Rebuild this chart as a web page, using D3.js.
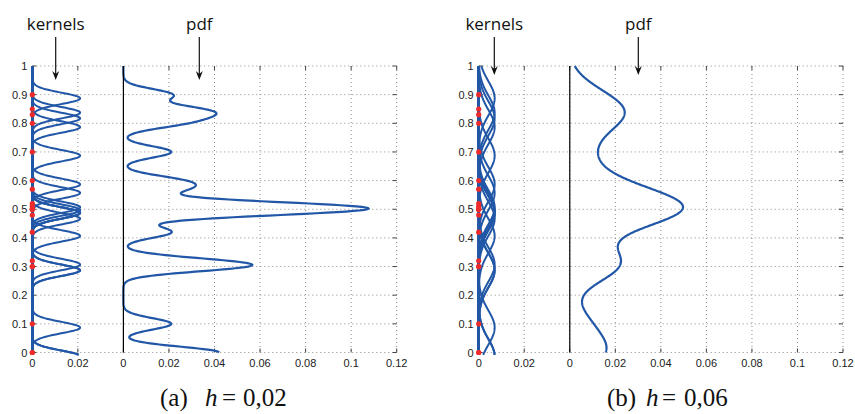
<!DOCTYPE html>
<html>
<head>
<meta charset="utf-8">
<script src="https://cdn.jsdelivr.net/npm/d3@7"></script>
<style>
  body { margin: 0; background: #fff; }
  svg { display: block; }
  .tick-label { font-family: "Liberation Sans", Arial, sans-serif; font-size: 11px; fill: #222; }
  .note { font-family: "Open Sans", sans-serif; font-size: 17px; fill: #111; }
  .caption { font-family: "Liberation Serif", "DejaVu Serif", serif; font-size: 25px; fill: #111; }
</style>
</head>
<body>
<svg id="chart" width="855" height="414"></svg>
<script>
// sample points (red dots)
const samples = [0, 0, 0.1, 0.3, 0.3, 0.32, 0.42, 0.48, 0.5, 0.5, 0.5, 0.51, 0.52,
                 0.57, 0.6, 0.7, 0.8, 0.83, 0.85, 0.9];
// bandwidths of the two panels
const bandwidths = [0.02, 0.06];
const panelNames = ["(a)", "(b)"];
const bandwidthLabels = ["0,02", "0,06"];

// axis ticks: kernel strip is drawn in [-0.04, 0], pdf in [0, 0.12]
const xTickValues = [-0.04, -0.02, 0, 0.02, 0.04, 0.06, 0.08, 0.1, 0.12];
const xTickLabels = ["0", "0.02", "0", "0.02", "0.04", "0.06", "0.08", "0.1", "0.12"];
const yTickValues = [0, 0.1, 0.2, 0.3, 0.4, 0.5, 0.6, 0.7, 0.8, 0.9, 1];
const yTickLabels = ["0", "0.1", "0.2", "0.3", "0.4", "0.5", "0.6", "0.7", "0.8", "0.9", "1"];

const kernelArea = 0.00042;   // peak height of one kernel = kernelArea / h
const kernelOffset = -0.013;  // kernels sit a little below their dots in the original
const kernelBase = -0.04;

const blue = "#2157a6";

const svg = d3.select("#chart");

function kernel(y, s, h) {
    const u = (y - s) / h;
    return kernelArea / h * Math.exp(-0.5 * u * u);
}

function drawPanel(i, left, right) {
    const h = bandwidths[i];
    const top = 66, bottom = 352.5;

    const x = d3.scaleLinear().domain([-0.04, 0.12]).range([left, right]);
    const y = d3.scaleLinear().domain([0, 1]).range([bottom, top]);

    const g = svg.append("g");

    // dotted grid (also forms the box)
    g.selectAll(".gx").data(xTickValues).join("line")
        .attr("x1", d => x(d)).attr("x2", d => x(d))
        .attr("y1", top).attr("y2", bottom)
        .attr("stroke", "#8c8c8c").attr("stroke-dasharray", "1,3");
    g.selectAll(".gy").data(yTickValues).join("line")
        .attr("x1", left).attr("x2", right)
        .attr("y1", d => y(d)).attr("y2", d => y(d))
        .attr("stroke", "#8c8c8c").attr("stroke-dasharray", "1,3");

    // inward tick marks on all four sides
    const tk = 4;
    const ticks = g.append("g").attr("stroke", "#444").attr("stroke-width", 1);
    xTickValues.forEach(v => {
        ticks.append("line").attr("x1", x(v)).attr("x2", x(v)).attr("y1", bottom).attr("y2", bottom - tk);
        ticks.append("line").attr("x1", x(v)).attr("x2", x(v)).attr("y1", top).attr("y2", top + tk);
    });
    yTickValues.forEach(v => {
        ticks.append("line").attr("x1", left).attr("x2", left + tk).attr("y1", y(v)).attr("y2", y(v));
        ticks.append("line").attr("x1", right).attr("x2", right - tk).attr("y1", y(v)).attr("y2", y(v));
    });

    // tick labels
    g.selectAll(".xl").data(xTickValues).join("text")
        .attr("class", "tick-label")
        .attr("x", d => x(d)).attr("y", 367)
        .attr("text-anchor", "middle")
        .text((d, j) => xTickLabels[j]);
    g.selectAll(".yl").data(yTickValues).join("text")
        .attr("class", "tick-label")
        .attr("x", left - 5).attr("y", d => y(d) + 4)
        .attr("text-anchor", "end")
        .text((d, j) => yTickLabels[j]);

    // evaluation grids
    const yk = d3.range(-0.008, 1.0001, 0.002);
    const yp = d3.range(0, 1.0001, 0.002);

    // individual kernels
    const kLine = d3.line().x(d => x(kernelBase + d[0])).y(d => y(d[1]));
    samples.forEach(s => {
        const pts = yk.map(v => [kernel(v, s + kernelOffset, h), v]);
        g.append("path").attr("d", kLine(pts))
            .attr("fill", "none").attr("stroke", blue).attr("stroke-width", 2);
    });

    // pdf = sum of kernels
    const pdfPts = yp.map(v => [d3.sum(samples, s => kernel(v, s, h)), v]);
    g.append("path")
        .attr("d", d3.line().x(d => x(d[0])).y(d => y(d[1]))(pdfPts))
        .attr("fill", "none").attr("stroke", blue).attr("stroke-width", 2.2);

    // baseline of pdf
    g.append("line")
        .attr("x1", x(0)).attr("x2", x(0)).attr("y1", top).attr("y2", bottom)
        .attr("stroke", "#000").attr("stroke-width", 1.2);

    // sample dots
    g.selectAll(".dot").data(samples).join("circle")
        .attr("cx", x(kernelBase)).attr("cy", d => y(d))
        .attr("r", 2.6).attr("fill", "#ee2a2a");

    return { x, g };
}

function annotate(g, cx, label, tipY) {
    g.append("text").attr("class", "note")
        .attr("x", cx).attr("y", 30).attr("text-anchor", "middle").text(label);
    g.append("line").attr("x1", cx).attr("x2", cx).attr("y1", 37).attr("y2", tipY - 6)
        .attr("stroke", "#111").attr("stroke-width", 1.2);
    g.append("path")
        .attr("d", `M${cx - 3.5},${tipY - 9} L${cx},${tipY} L${cx + 3.5},${tipY - 9} L${cx},${tipY - 6} Z`)
        .attr("fill", "#111");
}

function caption(xs, i) {
    const t = svg.append("text").attr("class", "caption").attr("y", 406);
    t.append("tspan").attr("x", xs[0]).text(panelNames[i]);
    t.append("tspan").attr("x", xs[1]).attr("font-style", "italic").text("h");
    t.append("tspan").attr("x", xs[2]).text("=");
    t.append("tspan").attr("x", xs[3]).text(bandwidthLabels[i]);
}

const pa = drawPanel(0, 32.3, 396.7);
const pb = drawPanel(1, 478.7, 843);

annotate(pa.g, 55.7, "kernels", 80);
annotate(pa.g, 199.3, "pdf", 80);
annotate(pb.g, 494.3, "kernels", 75);
annotate(pb.g, 638.3, "pdf", 75);

caption([160, 205, 222, 243], 0);
caption([607, 646, 662, 684], 1);
</script>
</body>
</html>
